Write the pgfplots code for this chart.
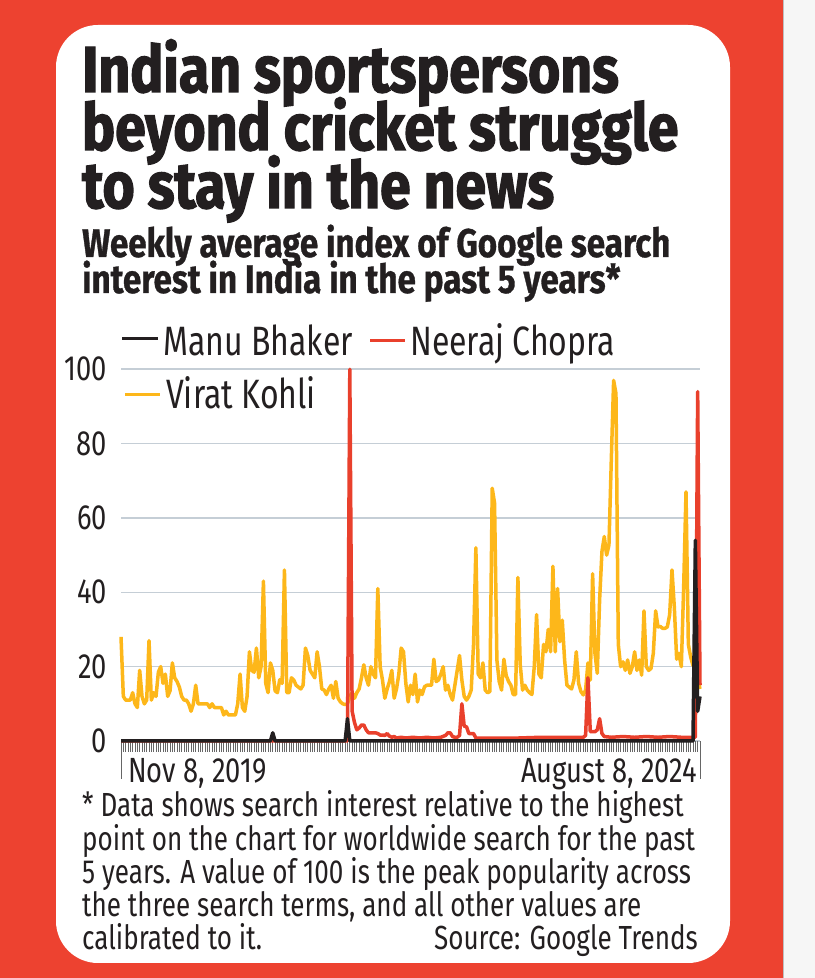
\documentclass[border=0pt]{standalone}
\usepackage{pgfplots}
\pgfplotsset{compat=1.18}
\usepackage{fontspec}
\setmainfont{Fira Sans}[FakeStretch=0.78]
\newfontfamily\headfont{Fira Sans}[FakeStretch=0.85, BoldFeatures={FakeBold=2}]
\newfontfamily\subheadfont{Fira Sans}[FakeStretch=0.83, BoldFeatures={FakeBold=0.8}]

\definecolor{bgred}{RGB}{237,66,48}
\definecolor{linered}{RGB}{233,64,44}
\definecolor{kohli}{RGB}{253,183,26}
\definecolor{ink}{RGB}{35,31,32}
\definecolor{gridc}{RGB}{197,206,214}
\definecolor{strip}{RGB}{246,246,246}

\newcommand\titlefont{\headfont\fontsize{65bp}{58bp}\selectfont\bfseries}
\newcommand\subfont{\subheadfont\fontsize{40bp}{38bp}\selectfont\bfseries}
\newcommand\legfont{\fontsize{41bp}{44bp}\selectfont}
\newcommand\tickfont{\fontsize{35bp}{38bp}\selectfont}
\newcommand\notefont{\fontsize{33.4bp}{34bp}\selectfont}

\begin{document}
\begin{tikzpicture}[x=1bp,y=1bp]
% background and card
\fill[bgred] (0,0) rectangle (815,978);
\fill[strip] (783,0) rectangle (815,978);
\draw[black!25, line width=1bp] (783,0) -- (783,978);
\fill[white, rounded corners=42bp] (56,15) rectangle (730,953);

% title block
\begin{scope}[every node/.style={anchor=base west, inner sep=0pt, text=ink}]
\node[font=\titlefont] at (82,886) {Indian sportspersons};
\node[font=\titlefont] at (82,828) {beyond cricket struggle};
\node[font=\titlefont] at (82,770) {to stay in the news};
\node[font=\subfont] at (82,721) {Weekly average index of Google search};
\node[font=\subfont] at (82,685) {interest in India in the past 5 years*};
\end{scope}

% legend
\begin{scope}[every node/.style={anchor=base west, inner sep=0pt, font=\legfont, text=ink}]
\draw[ink, line width=3bp] (122,639) -- (158,639);
\node at (163,622) {Manu Bhaker};
\draw[linered, line width=3bp] (370,637) -- (405,637);
\node at (410,622) {Neeraj Chopra};
\draw[kohli, line width=3bp] (125,583) -- (160,583);
\node at (166,569) {Virat Kohli};
\end{scope}

\begin{axis}[
  at={(121bp,237bp)}, anchor=south west,
  scale only axis, width=579bp, height=371.7bp,
  xmin=0, xmax=248, ymin=0, ymax=100,
  clip=false,
  axis lines*=left,
  axis line style={draw=none},
  tick align=outside,
  xtick={0,...,248}, xticklabels={},
  major tick length=11bp,
  x tick style={black!60, line width=0.9bp},
  extra x ticks={0,248}, extra x tick labels={},
  extra x tick style={major tick length=38bp, tick style={black!75, line width=1.2bp}},
  ytick={0,20,...,100},
  y tick style={draw=none},
  ymajorgrids,
  grid style={gridc, line width=1.6bp},
  /pgf/number format/assume math mode=true,
  yticklabel style={font=\tickfont, text=ink, inner xsep=3bp},
]
% Virat Kohli
\addplot[kohli, line width=3.5bp, line join=round] coordinates {
(0,28)(1,12)(2,11)(3,11)(4,11)(5,13)(6,10)(7,9)(8,19)(9,12)(10,10)(11,11)(12,27)(13,11)(14,13)(15,12)(16,18.5)(17,20)(18,15.5)(19,18)(20,12)(21,13.5)(22,21)(23,17)(24,16)(25,14.5)(26,12)(27,11)(28,11)(29,10)(30,8)(31,10)(32,15)(33,10)(34,10)(35,10)(36,10)(37,10)(38,9)(39,10)(40,9)(41,9)(42,9)(43,9)(44,7)(45,8)(46,7)(47,7)(48,7)(49,7)(50,10)(51,18)(52,9)(53,8)(54,12)(55,24)(56,19)(57,18.5)(58,25)(59,17)(60,20)(61,43)(62,15.5)(63,13)(64,21)(65,19)(66,13.5)(67,13)(68,16.5)(69,15.5)(70,46)(71,13)(72,13)(73,17)(74,16.4)(75,15)(76,14.5)(77,14)(78,15)(79,25)(80,23)(81,19)(82,18)(83,17)(84,24)(85,20)(86,14)(87,13.7)(88,12.5)(89,14)(90,15)(91,11.5)(92,16)(93,11.5)(94,10.5)(95,10)(96,9.8)(97,10)(98,12)(99,13)(100,11.5)(101,13)(102,14)(103,17)(104,20.5)(105,17)(106,15)(107,20)(108,18)(109,17)(110,41)(111,20)(112,16.4)(113,11.5)(114,14)(115,16)(116,19)(117,11.5)(118,14)(119,18)(120,25)(121,24)(122,15.5)(123,10.5)(124,15)(125,12.5)(126,18)(127,10.5)(128,13.7)(129,12.5)(130,14.6)(131,15)(132,15)(133,15)(134,22)(135,16)(136,16.4)(137,18)(138,20)(139,13.7)(140,15)(141,12.5)(142,11)(143,15)(144,19)(145,23)(146,16.4)(147,12)(148,11)(149,12)(150,13.7)(151,26)(152,52)(153,18)(154,17)(155,21)(156,13.7)(157,13)(158,13.3)(159,68)(160,64)(161,21.8)(162,16)(163,13.7)(164,22)(165,17.6)(166,16)(167,15)(168,12.5)(169,12.5)(170,44)(171,20.5)(172,13.7)(173,15)(174,13.7)(175,13)(176,12.5)(177,20)(178,34)(179,18)(180,17)(181,26)(182,24)(183,30)(184,24)(185,47)(186,24)(187,41)(188,26.7)(189,32.5)(190,21.8)(191,15)(192,14.5)(193,14)(194,16.4)(195,24)(196,15.5)(197,13.3)(198,12.4)(199,13.7)(200,21)(201,16.4)(202,45)(203,23.6)(204,18.2)(205,38)(206,51)(207,55)(208,50)(209,52.7)(210,75.5)(211,97)(212,93.5)(213,26)(214,20)(215,21.3)(216,19)(217,21.8)(218,18.2)(219,20)(220,24)(221,19)(222,21.8)(223,17.7)(224,35)(225,20)(226,19)(227,19.5)(228,23.6)(229,35)(230,30.7)(231,30.8)(232,30.3)(233,30.3)(234,30.7)(235,34)(236,46)(237,36)(238,22)(239,23.6)(240,20)(241,41.5)(242,67)(243,26)(244,22.6)(245,20.3)(246,20)(247,17)(248,14)
};

% Neeraj Chopra
\addplot[linered, line width=3.5bp, line join=round] coordinates {
(0,0)(97,0)(98,100)(99,8)(100,5)(101,3)(102,3.5)(103,4.3)(104,4.3)(105,3)(106,2.2)(107,2.2)(108,2.2)(109,2.2)(110,2)(111,1.6)(112,1.6)(113,1.5)(114,2)(115,1.3)(116,1)(117,1.2)(118,0.8)(120,1)(122,0.8)(125,1)(128,0.8)(131,1)(134,0.8)(137,1)(139,1.5)(140,2.2)(141,2.2)(142,1.2)(143,1)(144,1)(145,1.5)(146,10)(147,4)(148,3.8)(149,2)(150,2)(151,2)(152,0.8)(160,0.8)(170,0.8)(180,1)(190,1)(198,1)(199,1.5)(200,17)(201,2.5)(202,2.5)(203,2.5)(204,3)(205,6)(206,2)(207,1.2)(210,1)(215,1.2)(220,1)(225,1.2)(230,1)(235,1.2)(240,1)(246,1)(247,94)(248,15)
};

% Manu Bhaker
\addplot[ink, line width=3.5bp, line join=round] coordinates {
(0,0)(64,0)(65,2.2)(66,0)(96,0)(97,6)(98,0)(245,0)(246,54)(247,8)(248,12)
};
\end{axis}

% date labels
\node[anchor=base west, inner sep=0pt, font=\tickfont, text=ink] at (128,195) {Nov 8, 2019};
\node[anchor=base east, inner sep=0pt, font=\tickfont, text=ink] at (697,195) {August 8, 2024};

% footnote
\begin{scope}[every node/.style={anchor=base west, inner sep=0pt, font=\notefont, text=ink}]
\node at (82,161) {* Data shows search interest relative to the highest};
\node at (82,127) {point on the chart for worldwide search for the past};
\node at (82,94) {5 years. A value of 100 is the peak popularity across};
\node at (82,61) {the three search terms, and all other values are};
\node at (82,28) {calibrated to it.};
\node[anchor=base east] at (698,28) {Source: Google Trends};
\end{scope}

\pgfresetboundingbox
\useasboundingbox (0,0) rectangle (815,978);
\end{tikzpicture}
\end{document}
